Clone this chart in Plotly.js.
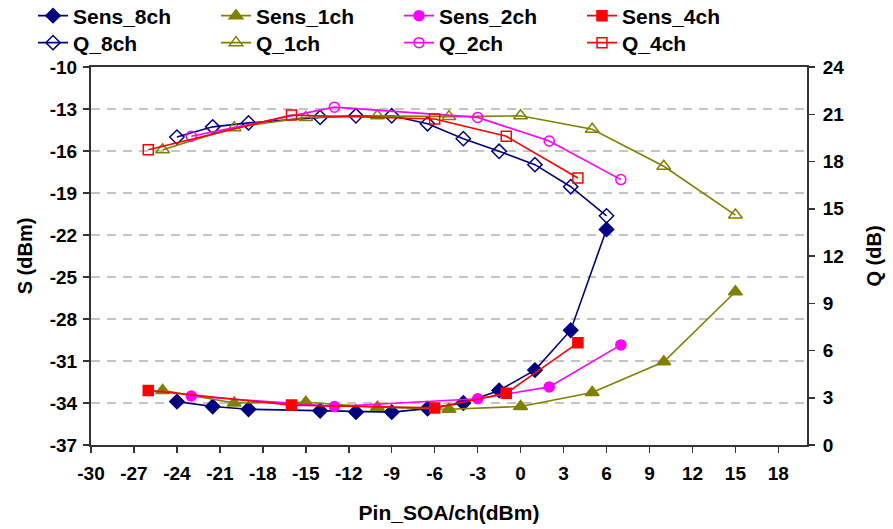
<!DOCTYPE html>
<html>
<head>
<meta charset="utf-8">
<script src="https://cdn.plot.ly/plotly-3.0.1.min.js"></script>
<style>html,body{margin:0;padding:0;background:#fff;}#chart{width:893px;height:529px;}</style>
</head>
<body>
<div id="chart"></div>
<script>
// Pin_SOA/ch (dBm) for each configuration
const x8 = [-24, -21.5, -19, -14, -11.5, -9, -6.5, -4, -1.5, 1, 3.5, 6];
const sens8 = [-33.9, -34.25, -34.45, -34.55, -34.65, -34.65, -34.4, -34.0, -33.1, -31.65, -28.8, -21.6];
const q8 = [19.55, 20.2, 20.45, 20.8, 20.9, 20.9, 20.4, 19.45, 18.65, 17.8, 16.4, 14.55];

const x1 = [-25, -20, -15, -10, -5, 0, 5, 10, 15];
const sens1 = [-33.1, -34.0, -33.95, -34.3, -34.45, -34.25, -33.25, -31.05, -26.05];
const q1 = [18.75, 20.15, 20.8, 20.9, 20.85, 20.9, 20.05, 17.7, 14.6];

const x2 = [-23, -13, -3, 2, 7];
const sens2 = [-33.5, -34.25, -33.7, -32.85, -29.85];
const q2 = [19.6, 21.45, 20.8, 19.3, 16.85];

const x4 = [-26, -16, -6, -1, 4];
const sens4 = [-33.1, -34.15, -34.35, -33.3, -29.7];
const q4 = [18.75, 20.95, 20.7, 19.6, 16.95];

const xTicks = [-30,-27,-24,-21,-18,-15,-12,-9,-6,-3,0,3,6,9,12,15,18];
const sTicks = [-37,-34,-31,-28,-25,-22,-19,-16,-13,-10];
const qTicks = [0,3,6,9,12,15,18,21,24];

const NAVY = '#000080', OLIVE = '#808000', MAG = '#FF00FF', RED = '#FF0000';

function tr(name, x, y, color, symbol, size, axis, legend) {
  return {
    type: 'scatter', mode: 'lines+markers', name: name, x: x, y: y,
    yaxis: axis, legend: legend,
    line: {color: color, width: 1.6},
    marker: {color: color, symbol: symbol, size: size, line: {color: color, width: 1.5}}
  };
}

const data = [
  tr('Sens_8ch', x8, sens8, NAVY, 'diamond', 11, 'y', 'legend'),
  tr('Sens_1ch', x1, sens1, OLIVE, 'triangle-up', 12, 'y', 'legend'),
  tr('Sens_2ch', x2, sens2, MAG, 'circle', 10, 'y', 'legend'),
  tr('Sens_4ch', x4, sens4, RED, 'square', 10, 'y', 'legend'),
  tr('Q_8ch', x8, q8, NAVY, 'diamond-open', 11, 'y2', 'legend2'),
  tr('Q_1ch', x1, q1, OLIVE, 'triangle-up-open', 12, 'y2', 'legend2'),
  tr('Q_2ch', x2, q2, MAG, 'circle-open', 10, 'y2', 'legend2'),
  tr('Q_4ch', x4, q4, RED, 'square-open', 10, 'y2', 'legend2')
];

const FONT = 'Arial, "Liberation Sans", sans-serif';
const tickFont = {family: FONT, size: 19, color: '#000', weight: 'bold'};

// plot area: left 91, width 716, top 67, height 378
const legendBase = {
  orientation: 'h', xref: 'paper', yref: 'paper',
  x: (33 - 91) / 716, xanchor: 'left', yanchor: 'middle',
  font: {family: FONT, size: 21, color: '#000', weight: 'bold'},
  entrywidth: 138, entrywidthmode: 'pixels',
  bgcolor: 'rgba(0,0,0,0)', borderwidth: 0, tracegroupgap: 0
};

const layout = {
  width: 893, height: 529,
  paper_bgcolor: '#fff', plot_bgcolor: '#fff',
  margin: {l: 91, r: 86, t: 67, b: 84, autoexpand: false},
  font: {family: FONT, color: '#000'},
  showlegend: true,
  legend: Object.assign({}, legendBase, {y: (445 - 16) / 378}),
  legend2: Object.assign({}, legendBase, {y: (445 - 43) / 378}),
  xaxis: {
    range: [-30, 20], tickvals: xTicks, ticktext: xTicks.map(String),
    ticks: 'outside', ticklen: 6, tickwidth: 1.5, tickcolor: '#333',
    showline: true, linecolor: '#333', linewidth: 2, mirror: true,
    showgrid: false, zeroline: false,
    tickfont: tickFont, ticklabelstandoff: 4,
    title: {text: 'Pin_SOA/ch(dBm)', font: {family: FONT, size: 21, weight: 'bold', color: '#000'}, standoff: 23}
  },
  yaxis: {
    range: [-37, -10], tickvals: sTicks, ticktext: sTicks.map(String),
    ticks: 'outside', ticklen: 6, tickwidth: 1.5, tickcolor: '#333',
    showline: true, linecolor: '#333', linewidth: 2,
    showgrid: true, gridcolor: '#c4c4c4', gridwidth: 1.5, griddash: '9px,7px',
    zeroline: false,
    tickfont: tickFont, ticklabelstandoff: 2,
    title: {text: 'S (dBm)', font: {family: FONT, size: 20, weight: 'bold', color: '#000'}, standoff: 12}
  },
  yaxis2: {
    overlaying: 'y', side: 'right',
    range: [0, 24], tickvals: qTicks, ticktext: qTicks.map(String),
    ticks: 'outside', ticklen: 6, tickwidth: 1.5, tickcolor: '#333',
    showline: true, linecolor: '#333', linewidth: 2,
    showgrid: false, zeroline: false,
    tickfont: tickFont, ticklabelstandoff: 4,
    title: {text: 'Q (dB)', font: {family: FONT, size: 20, weight: 'bold', color: '#000'}, standoff: 24}
  }
};

Plotly.newPlot('chart', data, layout, {displayModeBar: false, staticPlot: true});
</script>
</body>
</html>
